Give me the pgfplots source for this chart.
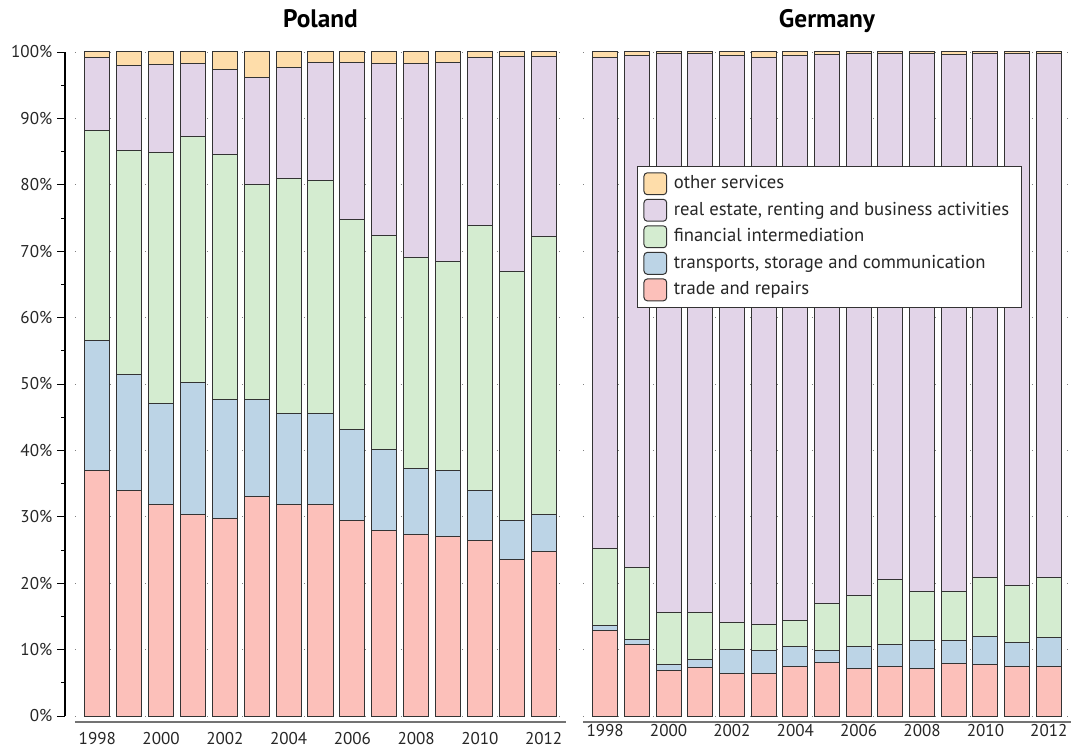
\documentclass[border=0pt]{standalone}
\usepackage{pgfplots}
\pgfplotsset{compat=1.18}
\usepackage{pgfplotstable}
\usepackage{fontspec}
\setmainfont{PT Sans}
\definecolor{cother}{HTML}{FEDDAA}
\definecolor{creal}{HTML}{E2D4E8}
\definecolor{cfin}{HTML}{D4ECD0}
\definecolor{ctrans}{HTML}{BCD4E6}
\definecolor{ctrade}{HTML}{FCC0BA}
\pgfplotstableread{
year trade trans fin real other
1998 37.0 19.6 31.6 11.0 0.8
1999 34.0 17.5 33.7 12.7 2.1
2000 31.8 15.2 37.8 13.3 1.9
2001 30.3 20.0 37.0 10.9 1.8
2002 29.7 17.9 36.9 12.9 2.6
2003 33.0 14.7 32.4 16.0 3.9
2004 31.8 13.7 35.4 16.8 2.3
2005 31.9 13.7 35.1 17.7 1.6
2006 29.5 13.6 31.6 23.7 1.6
2007 28.0 12.2 32.1 25.9 1.8
2008 27.3 9.9 31.8 29.3 1.7
2009 27.1 9.8 31.6 29.9 1.6
2010 26.5 7.4 40.0 25.3 0.8
2011 23.6 5.9 37.5 32.3 0.7
2012 24.7 5.6 41.9 27.1 0.7
}\poland
\pgfplotstableread{
year trade trans fin real other
1998 12.9 0.8 11.6 73.8 0.9
1999 10.8 0.7 10.9 77.1 0.5
2000 6.8 0.9 7.9 84.1 0.3
2001 7.3 1.2 7.1 84.1 0.3
2002 6.4 3.6 4.1 85.3 0.6
2003 6.4 3.5 3.9 85.4 0.8
2004 7.5 3.0 3.9 85.1 0.5
2005 8.1 1.8 7.0 82.7 0.4
2006 7.1 3.4 7.7 81.5 0.3
2007 7.4 3.3 9.8 79.2 0.3
2008 7.2 4.2 7.3 81.0 0.3
2009 7.9 3.4 7.4 80.9 0.4
2010 7.7 4.2 8.9 78.9 0.3
2011 7.4 3.7 8.6 80.0 0.3
2012 7.5 4.3 9.0 78.9 0.3
}\germany
\pgfplotsset{
  common/.style={
    scale only axis,
    height=498pt,
    ybar stacked,
    bar width=0.79,
    xmin=1997.3, xmax=2012.7,
    ymin=0, ymax=100,
    axis x line*=bottom,
    axis y line*=left,
    x axis line style={draw=black!55, line width=1pt, yshift=-4.5pt},
    xtick={1998,2000,...,2012},
    xtick style={draw=none},
    xticklabel style={yshift=-2.5pt},
    /pgf/number format/1000 sep={},
    /pgf/number format/assume math mode=true,
    ytick={0,10,...,100},
    minor ytick={5,15,...,95},
    ymajorgrids,
    major grid style={black!50, line width=0.6pt, dash pattern=on 0.6pt off 6pt},
    tick label style={font=\fontsize{12.8}{15}\selectfont, text=black!85},
    title style={font=\fontsize{19}{22}\selectfont\bfseries, at={(0.5,1)}, anchor=base, yshift=12.5pt},
    every axis plot/.append style={draw=black!80, line width=0.75pt},
  },
}
\begin{document}
\begin{tikzpicture}
\path[use as bounding box] (-56.25pt,-24.75pt) rectangle (748.5pt,537pt);
\begin{axis}[common,
  width=368.25pt,
  title={Poland},
  y axis line style={draw=black, line width=0.8pt, xshift=-7.5pt},
  ytick style={xshift=-7.5pt, draw=black, line width=0.7pt},
  tick align=outside,
  major tick length=6pt, minor tick length=3pt,
  yticklabel style={xshift=-7.5pt},
  yticklabel={\pgfmathprintnumber{\tick}\%},
]
\addplot[fill=ctrade] table[x=year,y=trade] {\poland};
\addplot[fill=ctrans] table[x=year,y=trans] {\poland};
\addplot[fill=cfin] table[x=year,y=fin] {\poland};
\addplot[fill=creal] table[x=year,y=real] {\poland};
\addplot[fill=cother] table[x=year,y=other] {\poland};
\end{axis}
\begin{axis}[common,
  at={(381pt,0pt)},
  width=366pt,
  title={Germany},
  y axis line style={draw=none},
  ytick style={draw=none},
  minor ytick={},
  yticklabels={},
  reverse legend,
  legend cell align=left,
  legend style={at={(0.1107,0.8283)}, anchor=north west,
    draw=black!80, line width=0.7pt, inner xsep=4.5pt, inner ysep=3pt,
    font=\fontsize{14}{16}\selectfont, text=black!85,
    row sep=0pt,
    nodes={inner ysep=2.2pt, inner xsep=5pt, text height=11.5pt, text depth=4pt}},
  legend image code/.code={\draw[#1, rounded corners=2.5pt] (0pt,-8.2pt) rectangle (17pt,8.2pt);},
]
\addplot[fill=ctrade] table[x=year,y=trade] {\germany};
\addplot[fill=ctrans] table[x=year,y=trans] {\germany};
\addplot[fill=cfin] table[x=year,y=fin] {\germany};
\addplot[fill=creal] table[x=year,y=real] {\germany};
\addplot[fill=cother] table[x=year,y=other] {\germany};
\legend{trade and repairs, {transports, storage and communication}, financial intermediation, {real estate, renting and business activities}, other services}
\end{axis}
\end{tikzpicture}
\end{document}
